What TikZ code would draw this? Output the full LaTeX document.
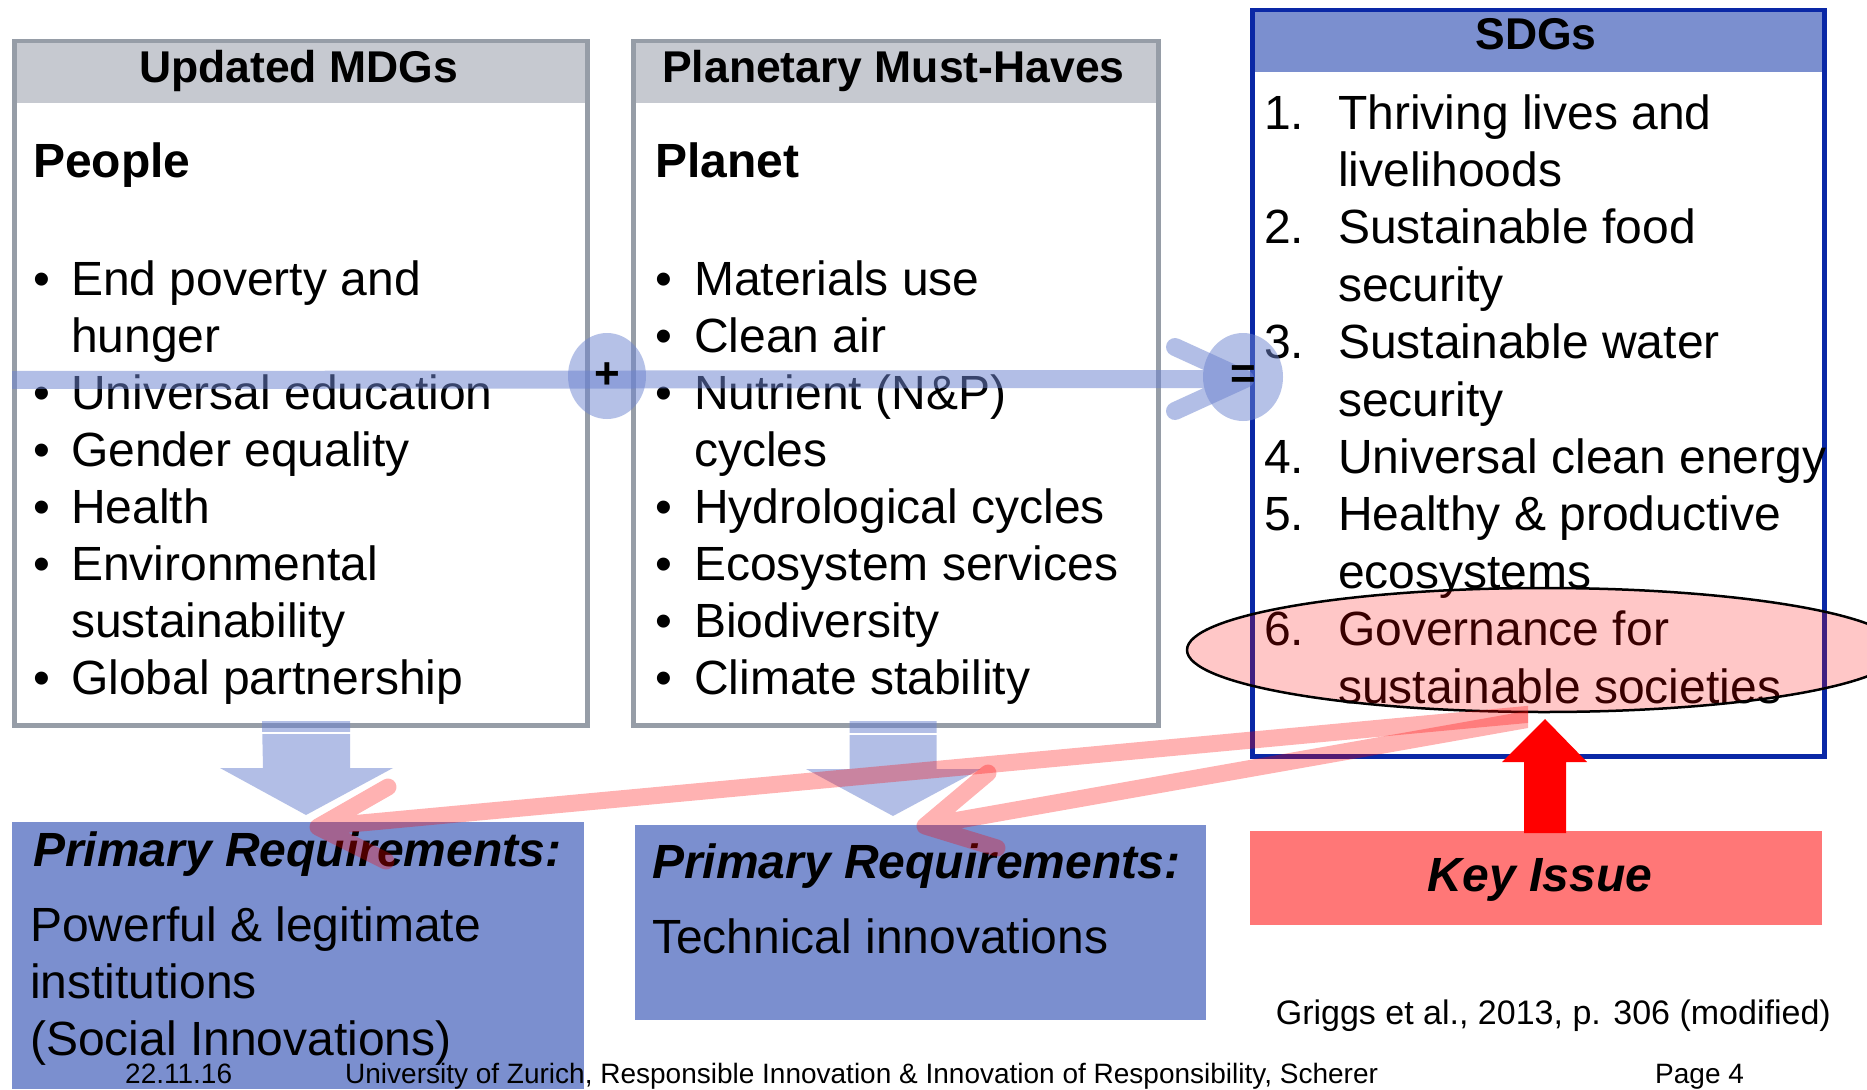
\documentclass[tikz,border=0pt]{standalone}
\usepackage{fontspec}
\setmainfont{Liberation Sans}
\usetikzlibrary{shapes.geometric,calc}
\definecolor{boxgray}{RGB}{150,157,167}
\definecolor{hdrgray}{RGB}{198,201,208}
\definecolor{sdgblue}{RGB}{10,40,166}
\definecolor{midblue}{RGB}{123,143,207}
\definecolor{bandblue}{RGB}{109,132,208}
\definecolor{keyred}{RGB}{255,119,119}
\begin{document}
\begin{tikzpicture}[x=1pt,y=-1pt,
  graybox/.style={draw=boxgray, line width=4.5pt, inner sep=0pt, anchor=north west},
  sdgbox/.style={draw=sdgblue, line width=4.5pt, inner sep=0pt, anchor=north west},
  fillbox/.style={inner sep=0pt, anchor=north west},
  hdr/.style={font=\fontsize{44.5}{53}\selectfont\bfseries, anchor=base, inner sep=0pt},
  ttl/.style={font=\fontsize{48}{57.6}\selectfont\bfseries, anchor=base west, inner sep=0pt},
  body/.style={font=\fontsize{48}{57.6}\selectfont, anchor=base west, inner sep=0pt},
  req/.style={font=\fontsize{48}{57.6}\selectfont\bfseries\itshape, anchor=base west, inner sep=0pt},
  circ/.style={ellipse, fill=bandblue, fill opacity=0.5, text opacity=1, inner sep=0pt, font=\fontsize{44}{50}\selectfont\bfseries},
  band/.style={draw=bandblue, draw opacity=0.52, line width=18pt, line cap=round, line join=round},
  blockfill/.style={fill=bandblue, fill opacity=0.52},
  pinkarrow/.style={draw=red, draw opacity=0.3, line width=17pt, line cap=round, line join=round},
  small/.style={font=\fontsize{28}{33}\selectfont, anchor=base west, inner sep=0pt},
]
\fill[white] (0,0) rectangle (1867,1089);
\useasboundingbox (0,0) rectangle (1867,1089);

% ---------- box 1: Updated MDGs ----------
\fill[hdrgray] (12,39) rectangle (585,103);
\node[graybox, minimum width=573pt, minimum height=684pt] (b1) at (12,39) {};
\node[hdr] (h1) at (298.5,83) {Updated MDGs};
\node[ttl] (t1) at (33,177) {People};
\foreach \t [count=\i] in {End poverty and, hunger, Universal education, Gender equality, Health, Environmental, sustainability, Global partnership}
  \node[body] (l1-\i) at (71,{295+57*(\i-1)}) {\t};
\foreach \i in {1,3,4,5,6,8}
  \node[body] (d1-\i) at (33,{295+57*(\i-1)}) {•};

% ---------- box 2: Planetary Must-Haves ----------
\fill[hdrgray] (631,39) rectangle (1156,103);
\node[graybox, minimum width=525pt, minimum height=684pt] (b2) at (631,39) {};
\node[hdr] (h2) at (893.5,83) {Planetary Must-Haves};
\node[ttl] (t2) at (655,177) {Planet};
\foreach \t [count=\i] in {Materials use, Clean air, Nutrient (N\&P), cycles, Hydrological cycles, Ecosystem services, Biodiversity, Climate stability}
  \node[body] (l2-\i) at (694,{295+57*(\i-1)}) {\t};
\foreach \i in {1,2,3,5,6,7,8}
  \node[body] (d2-\i) at (655,{295+57*(\i-1)}) {•};

% ---------- box 3: SDGs ----------
\fill[midblue] (1250,8) rectangle (1822,72);
\node[sdgbox, minimum width=572pt, minimum height=746pt] (sdg) at (1250,8) {};
\node[hdr] (h3) at (1536,50) {SDGs};
\foreach \t [count=\i] in {Thriving lives and, livelihoods, Sustainable food, security, Sustainable water, security, Universal clean energy, Healthy \& productive, ecosystems, Governance for, sustainable societies}
  \node[body] (l3-\i) at (1338,{129+57.4*(\i-1)}) {\t};
\foreach \n/\i in {1/1,2/3,3/5,4/7,5/8,6/10}
  \node[body] (n3-\i) at (1264,{129+57.4*(\i-1)}) {\n.};

% ---------- horizontal band with + and = ----------
\coordinate (bandstart) at (12,380);
\coordinate (eqtip) at (1245,379);
\begin{scope}
  \clip (12,0) rectangle (1867,1089);
  \draw[band] (bandstart) -- (eqtip) ++(-70,-32) -- (eqtip) -- ++(-70,32);
\end{scope}
\node[circ, minimum width=78pt, minimum height=86pt] (plus) at (607,376) {+};
\node[circ, minimum width=80pt, minimum height=88pt] (eq) at (1243,377) {=};

% ---------- down block arrows ----------
\coordinate (d1s) at (306,721);
\coordinate (d1t) at (306,815);
\fill[blockfill] (d1s) ++(-44,0) -- ++(88,0) -- ++(0,47) -- ++(43,0) -- (d1t) -- ++(-86,-47) -- ++(43,0) -- cycle;
\draw[white, line width=2.5pt] ($(d1s)+(-45,12)$) -- ($(d1s)+(45,12)$);
\coordinate (d2s) at (893,721);
\coordinate (d2t) at (893,816);
\fill[blockfill] (d2s) ++(-43.5,0) -- ++(87,0) -- ++(0,48) -- ++(44,0) -- (d2t) -- ++(-87,-47) -- ++(43.5,0) -- cycle;
\draw[white, line width=2.5pt] ($(d2s)+(-45,13)$) -- ($(d2s)+(45,13)$);

% ---------- bottom boxes ----------
\node[fillbox, fill=midblue, minimum width=572pt, minimum height=267pt] (ra) at (12,822) {};
\node[req] (ra1) at (33,866) {Primary Requirements:};
\node[body] (ra2) at (30,941) {Powerful \& legitimate};
\node[body] (ra3) at (30,998) {institutions};
\node[body] (ra4) at (30,1055) {(Social Innovations)};

\node[fillbox, fill=midblue, minimum width=571pt, minimum height=195pt] (rb) at (635,825) {};
\node[req] (rb1) at (652,878) {Primary Requirements:};
\node[body] (rb2) at (652,953) {Technical innovations};

\node[fillbox, fill=keyred, minimum width=572pt, minimum height=94pt] (key) at (1250,831) {};
\node[req, anchor=base] (key1) at (1540,891) {Key Issue};

% ---------- red up arrow ----------
\coordinate (ku) at (1545,833);
\coordinate (kt) at (1545,719);
\fill[red] (ku) ++(-21,0) -- ++(42,0) -- ++(0,-71) -- ++(21,0) -- (kt) -- ++(-43,43) -- ++(22,0) -- cycle;

% ---------- ellipse ----------
\node[ellipse, draw=black, line width=2.5pt, fill=red, fill opacity=0.22, draw opacity=1, inner sep=0pt, minimum width=714pt, minimum height=124pt] (gov) at (1544,650) {};

% ---------- pink arrows ----------
\coordinate (p1s) at ($(gov.south)+(-4,0)$);
\coordinate (p1t) at (318,827);
\coordinate (p2s) at ($(gov.south)+(-4,4)$);
\coordinate (p2t) at (925,826);
\begin{scope}
  \clip (0,0) rectangle (1528,1089);
  \draw[pinkarrow] (p1s) -- (p1t) ++(70,-40) -- (p1t) -- ++(68,34);
  \draw[pinkarrow] (p2s) -- (p2t) ++(63,-53) -- (p2t) -- ++(72,22);
\end{scope}

% ---------- source and footer ----------
\node[font=\fontsize{34}{40}\selectfont, anchor=base east, inner sep=0pt] (src) at (1831,1024) {Griggs et al., 2013, p. 306 (modified)};
\node[small] (f1) at (125,1083) {22.11.16};
\node[small] (f2) at (345,1083) {University of Zurich, Responsible Innovation \& Innovation of Responsibility, Scherer};
\node[small] (f3) at (1655,1083) {Page 4};
\end{tikzpicture}
\end{document}
